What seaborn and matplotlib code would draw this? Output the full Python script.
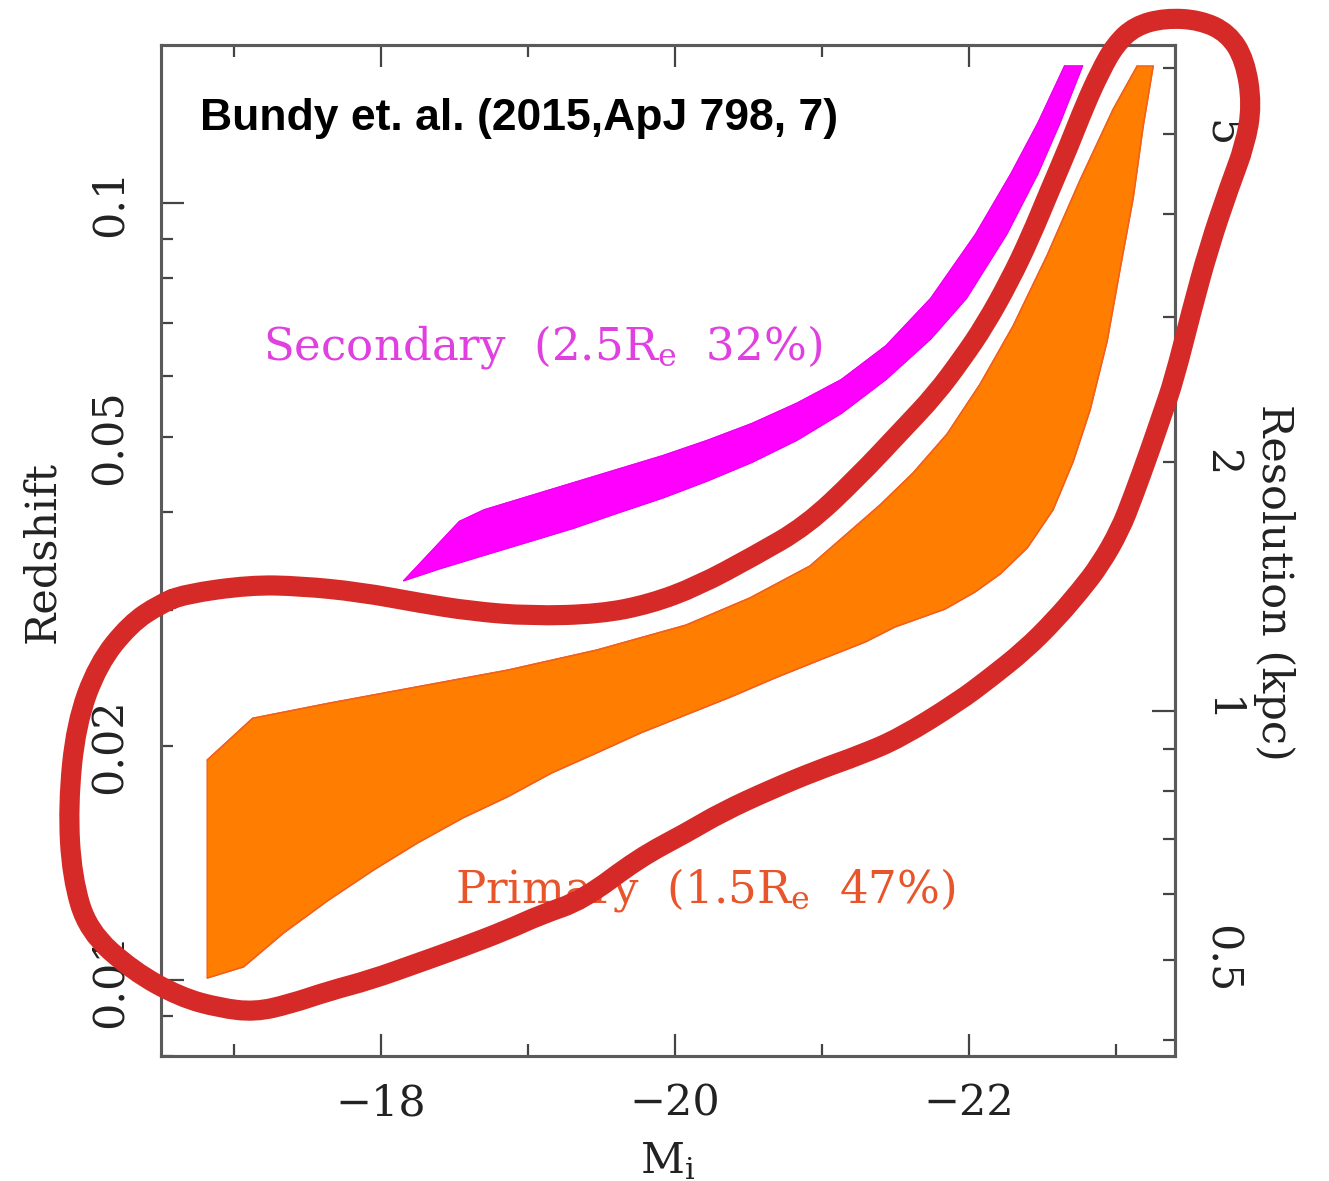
import numpy as np
import matplotlib
matplotlib.use("Agg")
import matplotlib.pyplot as plt
import seaborn as sns
from matplotlib.ticker import FixedLocator, FuncFormatter
from matplotlib.path import Path
from matplotlib.patches import PathPatch

# ---------------- data ----------------
# Secondary sample band (2.5 Re): upper/left edge and lower/right edge
sec_upper_M = [-18.156, -18.535, -18.703, -19.006, -19.310, -19.614, -19.918, -20.221,
               -20.524, -20.829, -21.132, -21.435, -21.739, -22.044, -22.286, -22.469, -22.650]
sec_upper_z = [0.03267, 0.03895, 0.04031, 0.04196, 0.04368, 0.04547, 0.04733, 0.04952,
               0.05206, 0.05528, 0.05929, 0.06554, 0.07540, 0.09118, 0.1092, 0.1269, 0.1502]
sec_lower_M = [-18.156, -18.399, -18.703, -19.006, -19.310, -19.614, -19.918, -20.221,
               -20.524, -20.829, -21.132, -21.435, -21.739, -21.982, -22.256, -22.469,
               -22.619, -22.772]
sec_lower_z = [0.03267, 0.03384, 0.03523, 0.03666, 0.03816, 0.03994, 0.04175, 0.04390,
               0.04639, 0.04952, 0.05364, 0.05929, 0.06685, 0.0754, 0.09118, 0.1092,
               0.1269, 0.1502]

# Primary sample band (1.5 Re)
pri_upper_M = [-16.820, -17.129, -17.646, -18.252, -18.861, -19.469, -20.075, -20.510,
               -20.918, -21.395, -21.619, -21.850, -22.075, -22.299, -22.531, -22.755,
               -22.980, -23.143]
pri_upper_z = [0.01921, 0.02174, 0.02273, 0.02387, 0.02507, 0.02661, 0.02865, 0.03105,
               0.03413, 0.04090, 0.04496, 0.05045, 0.05850, 0.06948, 0.08571, 0.1071,
               0.1321, 0.1501]
pri_lower_M = [-16.820, -17.068, -17.340, -17.646, -17.952, -18.252, -18.558, -18.861,
               -19.163, -19.469, -19.769, -20.075, -20.381, -20.680, -20.986, -21.293,
               -21.497, -21.837, -22.041, -22.211, -22.395, -22.571, -22.707, -22.823,
               -22.939, -23.027, -23.116, -23.184, -23.252]
pri_lower_z = [0.01007, 0.01041, 0.01151, 0.01269, 0.01387, 0.01503, 0.01618, 0.01722,
               0.01849, 0.01962, 0.02082, 0.02196, 0.02316, 0.02449, 0.02584, 0.02724,
               0.02849, 0.03004, 0.03160, 0.03332, 0.03599, 0.04030, 0.04645, 0.05418,
               0.06645, 0.08224, 0.1015, 0.1256, 0.1501]

# axis ranges and ticks
x_range = [-16.506, -23.40]
z_range = [0.0079945, 0.1597]
res_range = [0.3822, 6.401]
x_major = [-18, -20, -22]
x_minor = [-17, -19, -21, -23]
z_major = [0.01, 0.1]
z_minor = [0.008, 0.009, 0.02, 0.03, 0.04, 0.05, 0.06, 0.07, 0.08, 0.09]
z_labels = {0.01: "0.01", 0.02: "0.02", 0.05: "0.05", 0.1: "0.1"}
res_major = [1]
res_minor = [0.4, 0.5, 0.6, 0.7, 0.8, 0.9, 2, 3, 4, 5, 6]
res_labels = {0.5: "0.5", 1: "1", 2: "2", 5: "5"}

title_text = "Bundy et. al. (2015,ApJ 798, 7)"
sec_label = "Secondary  (2.5R$_{\\rm e}$  32%)"
pri_label = "Primary  (1.5R$_{\\rm e}$  47%)"

# hand-drawn red highlight loop (figure pixel coordinates, y from top)
loop_px = [(185, 594), (250, 585), (300, 586), (360, 592), (420, 603), (470, 611),
           (530, 616), (600, 614), (650, 604), (698, 586), (754, 556), (806, 526),
           (857, 478), (904, 428), (935, 395), (962, 359), (985, 325), (1010, 280),
           (1030, 238), (1050, 190), (1068, 148), (1085, 105), (1100, 72), (1115, 45),
           (1135, 26), (1165, 18), (1200, 20), (1228, 33), (1245, 60), (1252, 105),
           (1245, 145), (1230, 185), (1209, 247), (1191, 313), (1174, 380), (1162, 415),
           (1150, 450), (1133, 497), (1120, 530), (1100, 565), (1080, 591), (1055, 620),
           (1025, 650), (990, 678), (958, 702), (900, 738), (860, 755), (818, 770),
           (772, 789), (722, 812), (686, 833), (639, 858), (583, 900), (540, 915),
           (507, 930), (460, 948), (418, 963), (370, 980), (329, 991), (290, 1004),
           (255, 1012), (220, 1008), (180, 997), (133, 971), (88, 931), (72, 877),
           (68, 806), (76, 724), (98, 664), (130, 624), (160, 604)]

# ---------------- style ----------------
sns.set_theme(style="ticks")
plt.rcParams.update({
    "font.family": ["DejaVu Serif"],
    "mathtext.fontset": "dejavuserif",
    "axes.unicode_minus": True,
    "figure.facecolor": "white",
    "axes.facecolor": "white",
})

W, H = 1329, 1181
fig = plt.figure(figsize=(W / 100, H / 100), dpi=100)
ax = fig.add_axes([161 / W, 1 - 1056 / H, 1014 / W, 1011 / H])
ax.set_yscale("log")
ax.set_xlim(*x_range)
ax.set_ylim(*z_range)

# bands
pri_M = pri_upper_M + pri_lower_M[::-1]
pri_z = pri_upper_z + pri_lower_z[::-1]
sec_M = sec_upper_M + sec_lower_M[::-1]
sec_z = sec_upper_z + sec_lower_z[::-1]
ax.fill(pri_M, pri_z, facecolor="#ff7d00", edgecolor="#f2601a", lw=1.0, zorder=2)
ax.fill(sec_M, sec_z, facecolor="#ff00ff", edgecolor="#ff00ff", lw=0.8, zorder=2)
for mx, mz, c in [(pri_upper_M, pri_upper_z, "#f2601a"), (pri_lower_M, pri_lower_z, "#f2601a"),
                  (sec_upper_M, sec_upper_z, "#f000f0"), (sec_lower_M, sec_lower_z, "#f000f0")]:
    sns.lineplot(x=mx, y=mz, sort=False, estimator=None, color=c, lw=1.0, ax=ax,
                 legend=False, zorder=3)


def label_fmt(labels):
    def f(v, pos):
        for k, s in labels.items():
            if np.isclose(v, k, rtol=1e-6):
                return s
        return ""
    return FuncFormatter(f)


# x axis
ax.xaxis.set_major_locator(FixedLocator(x_major))
ax.xaxis.set_minor_locator(FixedLocator(x_minor))
ax.xaxis.set_major_formatter(FuncFormatter(lambda v, p: f"\u2212{abs(int(round(v)))}"))
ax.tick_params(axis="x", which="both", direction="in", top=True, bottom=True,
               color="#444444", labelcolor="#222222", labelsize=31, pad=19, width=1.6)
ax.tick_params(axis="x", which="major", length=15.8)
ax.tick_params(axis="x", which="minor", length=8.6)

# left y axis (redshift)
ax.yaxis.set_major_locator(FixedLocator(z_major))
ax.yaxis.set_minor_locator(FixedLocator(z_minor))
ax.yaxis.set_major_formatter(label_fmt(z_labels))
ax.yaxis.set_minor_formatter(label_fmt(z_labels))
ax.tick_params(axis="y", which="both", direction="in", left=True, right=False,
               color="#444444", labelcolor="#222222", labelsize=31, pad=22, width=1.6,
               labelrotation=90)
ax.tick_params(axis="y", which="major", length=16.5)
ax.tick_params(axis="y", which="minor", length=8.6)

# right y axis (resolution)
ax2 = ax.twinx()
ax2.set_yscale("log")
ax2.set_ylim(*res_range)
ax2.yaxis.set_major_locator(FixedLocator(res_major))
ax2.yaxis.set_minor_locator(FixedLocator(res_minor))
ax2.yaxis.set_major_formatter(label_fmt(res_labels))
ax2.yaxis.set_minor_formatter(label_fmt(res_labels))
ax2.tick_params(axis="y", which="both", direction="in", left=False, right=True,
                color="#444444", labelcolor="#222222", labelsize=31, pad=18, width=1.6,
                labelrotation=-90)
ax2.tick_params(axis="y", which="major", length=16.5)
ax2.tick_params(axis="y", which="minor", length=8.6)

for a in (ax, ax2):
    for s in a.spines.values():
        s.set_linewidth(2.2)
        s.set_color("#5a5a5a")

for lab in ax.get_yticklabels(which="both"):
    lab.set_va("center")
for lab in ax2.get_yticklabels(which="both"):
    lab.set_va("center")

# axis labels
ax.set_xlabel("M$_{\\rm i}$", fontsize=31, color="#222222", va="top")
ax.xaxis.set_label_coords(0.5, -0.083)
ax.set_ylabel("Redshift", fontsize=31, color="#222222", rotation=90, va="center", ha="center")
ax.yaxis.set_label_coords(-0.1174, 0.4985)
ax2.set_ylabel("Resolution (kpc)", fontsize=31, color="#222222", rotation=-90,
               va="center", ha="center")
ax2.yaxis.set_label_coords(1.098, 0.468)

# texts
ax.text(0.038, 0.916, title_text, transform=ax.transAxes, fontsize=32, fontweight="bold",
        family=["Liberation Sans", "DejaVu Sans"], color="black", ha="left", va="baseline",
        zorder=5)
ax.text(0.1006, 0.6894, sec_label, transform=ax.transAxes, fontsize=32.5, color="#e040e0",
        ha="left", va="baseline", zorder=5)
ax.text(0.290, 0.1523, pri_label, transform=ax.transAxes, fontsize=32.5, color="#e8552a",
        ha="left", va="baseline", zorder=5)

# red highlight loop drawn over the figure (smooth closed quadratic-Bezier path)
pts = np.array(loop_px, dtype=float)
pts[:, 0] = pts[:, 0] / W
pts[:, 1] = 1 - pts[:, 1] / H
mids = (pts + np.roll(pts, -1, axis=0)) / 2
verts = [mids[-1]]
codes = [Path.MOVETO]
for i in range(len(pts)):
    verts += [pts[i], mids[i]]
    codes += [Path.CURVE3, Path.CURVE3]
loop = PathPatch(Path(np.array(verts), codes), transform=fig.transFigure, fill=False,
                 edgecolor="#d52a27", lw=14.5, joinstyle="round", capstyle="round",
                 zorder=20)
fig.add_artist(loop)

fig.savefig("out.png", dpi=100, facecolor="white")
